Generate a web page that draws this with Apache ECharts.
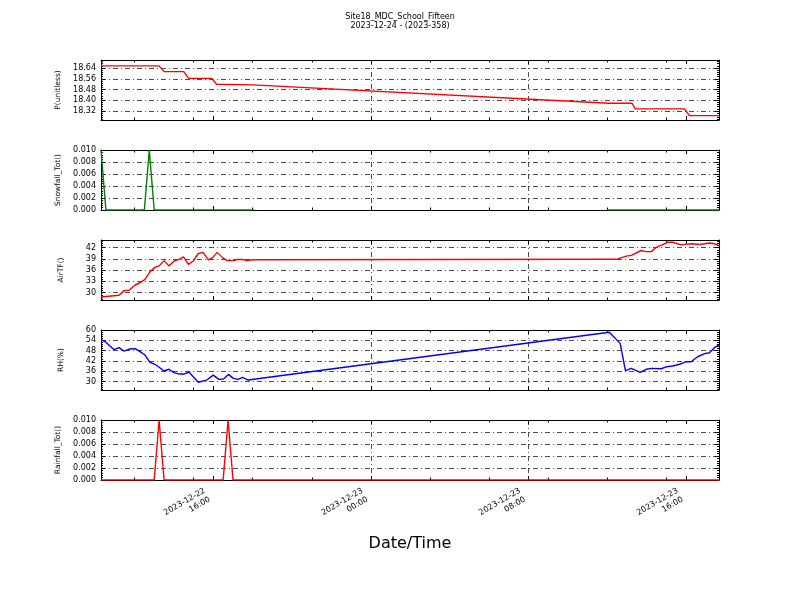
<!DOCTYPE html>
<html><head><meta charset="utf-8">
<script src="https://cdn.jsdelivr.net/npm/echarts@6/dist/echarts.min.js"></script>
<style>html,body{margin:0;padding:0;background:#fff}#c{width:800px;height:600px}</style>
</head><body><div id="c"></div>
<script>
// ---------- text ----------
const titleLines = ['Site18_MDC_School_Fifteen', '2023-12-24 - (2023-358)'];
const xAxisTitle = 'Date/Time';

// ---------- x axis (time) ----------
const xStart = '2023-12-22 10:18';
const xEnd = '2023-12-23 17:40';
const xMajorTicks = ['2023-12-22 16:00', '2023-12-23 00:00', '2023-12-23 08:00', '2023-12-23 16:00'];
const xMinorTicks = ['2023-12-22 12:00', '2023-12-22 15:00', '2023-12-22 18:00', '2023-12-22 21:00',
  '2023-12-23 03:00', '2023-12-23 06:00', '2023-12-23 09:00', '2023-12-23 12:00', '2023-12-23 15:00'];

// ---------- y tick labels ----------
const pTicks = [18.32, 18.40, 18.48, 18.56, 18.64];
const snowTicks = [0.000, 0.002, 0.004, 0.006, 0.008, 0.010];
const airTicks = [30, 33, 36, 39, 42];
const rhTicks = [30, 36, 42, 48, 54, 60];
const rainTicks = [0.000, 0.002, 0.004, 0.006, 0.008, 0.010];

// ---------- series ----------
const pTime = ['2023-12-22 10:18','2023-12-22 13:15','2023-12-22 13:30','2023-12-22 14:30','2023-12-22 14:45',
  '2023-12-22 15:55','2023-12-22 16:10','2023-12-22 18:00','2023-12-23 12:05','2023-12-23 13:15',
  '2023-12-23 13:25','2023-12-23 15:55','2023-12-23 16:10','2023-12-23 17:40'];
const pValues = [18.656,18.656,18.613,18.613,18.563,18.563,18.519,18.514,18.377,18.377,18.335,18.335,18.285,18.285];

const snowTime = ['2023-12-22 10:18','2023-12-22 10:33','2023-12-22 12:30','2023-12-22 12:45','2023-12-22 13:00',
  '2023-12-22 18:05','2023-12-23 00:00','2023-12-23 12:00','2023-12-23 17:40'];
const snowValues = [0.010, 0, 0, 0.010, 0, 0, null, 0, 0];

const airTime = ['2023-12-22 10:18','2023-12-22 11:13','2023-12-22 11:28','2023-12-22 11:44','2023-12-22 12:02',
  '2023-12-22 12:17','2023-12-22 12:32','2023-12-22 12:47','2023-12-22 13:02','2023-12-22 13:15','2023-12-22 13:30',
  '2023-12-22 13:45','2023-12-22 14:01','2023-12-22 14:17','2023-12-22 14:29','2023-12-22 14:44','2023-12-22 14:59',
  '2023-12-22 15:14','2023-12-22 15:29','2023-12-22 15:45','2023-12-22 15:58','2023-12-22 16:12','2023-12-22 16:28',
  '2023-12-22 16:43','2023-12-22 16:59','2023-12-22 17:14','2023-12-22 17:29','2023-12-22 17:43','2023-12-22 18:02',
  '2023-12-23 12:27','2023-12-23 12:58','2023-12-23 13:13','2023-12-23 13:43','2023-12-23 13:58','2023-12-23 14:14',
  '2023-12-23 14:29','2023-12-23 14:47','2023-12-23 15:04','2023-12-23 15:19','2023-12-23 15:45','2023-12-23 16:00',
  '2023-12-23 16:20','2023-12-23 16:40','2023-12-23 17:11','2023-12-23 17:26','2023-12-23 17:40'];
const airValues = [28.8,29.25,30.5,30.6,32.0,32.6,33.5,35.5,36.7,37.1,38.5,37.1,38.4,38.9,39.5,37.5,38.4,40.4,40.7,
  38.7,39.3,40.7,39.3,38.5,38.5,38.8,38.8,38.5,38.75,38.85,39.7,39.9,41.2,40.9,40.9,42.05,42.7,43.4,43.4,42.7,42.9,
  43.0,42.8,43.2,43.0,42.5];

const rhTime = ['2023-12-22 10:18','2023-12-22 10:31','2023-12-22 10:58','2023-12-22 11:13','2023-12-22 11:28',
  '2023-12-22 11:44','2023-12-22 12:02','2023-12-22 12:17','2023-12-22 12:32','2023-12-22 12:47','2023-12-22 13:02',
  '2023-12-22 13:17','2023-12-22 13:30','2023-12-22 13:45','2023-12-22 14:00','2023-12-22 14:17','2023-12-22 14:31',
  '2023-12-22 14:46','2023-12-22 15:14','2023-12-22 15:40','2023-12-22 16:00','2023-12-22 16:17','2023-12-22 16:31',
  '2023-12-22 16:46','2023-12-22 17:01','2023-12-22 17:16','2023-12-22 17:29','2023-12-22 17:46',
  '2023-12-23 12:06','2023-12-23 12:39','2023-12-23 12:55','2023-12-23 13:13','2023-12-23 13:40','2023-12-23 13:58',
  '2023-12-23 14:14','2023-12-23 14:44','2023-12-23 15:01','2023-12-23 15:19','2023-12-23 15:40','2023-12-23 16:00',
  '2023-12-23 16:15','2023-12-23 16:35','2023-12-23 16:56','2023-12-23 17:11','2023-12-23 17:26','2023-12-23 17:39'];
const rhValues = [54.2,53.2,48.5,49.7,47.7,48.9,49.1,47.4,45.4,41.1,40.0,38.0,36.1,37.1,35.1,34.3,34.3,35.5,29.5,30.8,
  33.7,31.2,31.4,34.1,31.8,31.2,32.4,30.8,58.7,52.2,36.3,37.6,35.3,37.1,37.6,37.4,38.6,39.0,40.0,41.5,41.5,44.4,46.2,
  46.7,49.7,51.2];

const rainTime = ['2023-12-22 10:18','2023-12-22 13:00','2023-12-22 13:15','2023-12-22 13:30','2023-12-22 16:30',
  '2023-12-22 16:45','2023-12-22 17:00','2023-12-23 17:40'];
const rainValues = [0, 0, 0.010, 0, 0, 0.010, 0, 0];

// ---------- helpers ----------
function toH(s) {
  const [d, hm] = s.split(' ');
  const day = Number(d.split('-')[2]);
  const [h, m] = hm.split(':').map(Number);
  return (day - 22) * 24 + h + m / 60;
}
function fmtX(v) {
  const day = 22 + Math.floor(v / 24 + 1e-9);
  const hh = Math.round(v - (day - 22) * 24);
  return '2023-12-' + day + '\n' + String(hh).padStart(2, '0') + ':00';
}
const X_MIN = toH(xStart), X_MAX = toH(xEnd);
const majorX = xMajorTicks.map(toH);
const minorX = xMinorTicks.map(toH);

const panels = [
  { name: 'P(unitless)', min: 18.252, max: 18.70, ticks: pTicks, dec: 2, color: '#ff0000', t: pTime, v: pValues },
  { name: 'Snowfall_Tot()', min: 0, max: 0.010, ticks: snowTicks, dec: 3, color: '#008000', t: snowTime, v: snowValues },
  { name: 'AirTF()', min: 28, max: 44, ticks: airTicks, dec: 0, color: '#ff0000', t: airTime, v: airValues },
  { name: 'RH(%)', min: 25, max: 60, ticks: rhTicks, dec: 0, color: '#0000ff', t: rhTime, v: rhValues },
  { name: 'Rainfall_Tot()', min: 0, max: 0.010, ticks: rainTicks, dec: 3, color: '#ff0000', t: rainTime, v: rainValues }
];

const FONT = 'DejaVu Sans';
const tops = [60, 150, 240, 330, 420];
const grids = [], xAxes = [], yAxes = [], series = [];
const dashDot = { color: '#000', width: 0.7, type: [5, 3, 1, 3] };

panels.forEach((p, i) => {
  grids.push({ left: 101, width: 618, top: tops[i], height: 60, containLabel: false });
  const isLast = i === panels.length - 1;
  const baseX = { type: 'value', gridIndex: i, min: X_MIN, max: X_MAX, splitLine: { show: false },
    axisLabel: { show: false }, axisLine: { show: false, onZero: false } };
  xAxes.push(Object.assign({}, baseX, {
    position: 'bottom',
    axisLine: { show: true, onZero: false, lineStyle: { color: '#000', width: 1 } },
    axisTick: { show: true, inside: true, length: 4, customValues: majorX, lineStyle: { color: '#000' } },
    splitLine: { show: true, lineStyle: dashDot, showMinLine: false, showMaxLine: false },
    axisLabel: isLast ? { show: true, customValues: majorX, rotate: 30, margin: 11, padding: [0, 7, 0, 0],
      formatter: fmtX, fontFamily: FONT, fontSize: 8, color: '#000', lineHeight: 10 } : { show: false }
  }));
  const dataXIndex = xAxes.length - 1;
  xAxes.push(Object.assign({}, baseX, {
    position: 'top',
    axisLine: { show: true, onZero: false, lineStyle: { color: '#000', width: 1 } },
    axisTick: { show: true, inside: true, length: 4, customValues: majorX, lineStyle: { color: '#000' } }
  }));
  xAxes.push(Object.assign({}, baseX, { position: 'bottom',
    axisTick: { show: true, inside: true, length: 2.5, customValues: minorX, lineStyle: { color: '#000' } } }));
  xAxes.push(Object.assign({}, baseX, { position: 'top',
    axisTick: { show: true, inside: true, length: 2.5, customValues: minorX, lineStyle: { color: '#000' } } }));

  const step = (p.ticks[1] - p.ticks[0]) / 5;
  const minor = [];
  for (let k = Math.ceil((p.min - p.ticks[0]) / step - 1e-6); p.ticks[0] + k * step <= p.max + 1e-9; k++) {
    minor.push(+(p.ticks[0] + k * step).toFixed(6));
  }
  const baseY = { type: 'value', gridIndex: i, min: p.min, max: p.max, splitLine: { show: false },
    axisLabel: { show: false }, axisLine: { show: false, onZero: false } };
  yAxes.push(Object.assign({}, baseY, {
    position: 'left', name: p.name, nameLocation: 'middle', nameGap: 36,
    nameTextStyle: { fontFamily: FONT, fontSize: 7.5, color: '#000' },
    axisLine: { show: true, onZero: false, lineStyle: { color: '#000', width: 1 } },
    axisTick: { show: true, inside: true, length: 4, customValues: p.ticks, lineStyle: { color: '#000' } },
    splitLine: { show: true, lineStyle: dashDot },
    axisLabel: { show: true, customValues: p.ticks, margin: 5, fontFamily: FONT, fontSize: 8, color: '#000',
      formatter: v => Number(v).toFixed(p.dec) }
  }));
  const dataYIndex = yAxes.length - 1;
  yAxes.push(Object.assign({}, baseY, { position: 'right',
    axisLine: { show: true, onZero: false, lineStyle: { color: '#000', width: 1 } },
    axisTick: { show: true, inside: true, length: 4, customValues: p.ticks, lineStyle: { color: '#000' } } }));
  yAxes.push(Object.assign({}, baseY, { position: 'left',
    axisTick: { show: true, inside: true, length: 2, customValues: minor, lineStyle: { color: '#000' } } }));
  yAxes.push(Object.assign({}, baseY, { position: 'right',
    axisTick: { show: true, inside: true, length: 2, customValues: minor, lineStyle: { color: '#000' } } }));

  series.push({
    type: 'line', xAxisIndex: dataXIndex, yAxisIndex: dataYIndex, showSymbol: false, symbol: 'none',
    connectNulls: false, lineStyle: { color: p.color, width: 1.4 }, itemStyle: { color: p.color },
    data: p.t.map((t, k) => [toH(t), p.v[k]]), z: 3
  });
});

const chart = echarts.init(document.getElementById('c'), null, { renderer: 'canvas' });
chart.setOption({
  animation: false,
  backgroundColor: '#fff',
  grid: grids, xAxis: xAxes, yAxis: yAxes, series: series,
  graphic: [
    { type: 'text', x: 400, y: 17, style: { text: titleLines[0], textAlign: 'center', textVerticalAlign: 'middle',
      font: '8px "DejaVu Sans"', fill: '#000' } },
    { type: 'text', x: 400, y: 26, style: { text: titleLines[1], textAlign: 'center', textVerticalAlign: 'middle',
      font: '8px "DejaVu Sans"', fill: '#000' } },
    { type: 'text', x: 410, y: 544, style: { text: xAxisTitle, textAlign: 'center', textVerticalAlign: 'middle',
      font: '16px "DejaVu Sans"', fill: '#000' } }
  ]
});
</script>
</body></html>
